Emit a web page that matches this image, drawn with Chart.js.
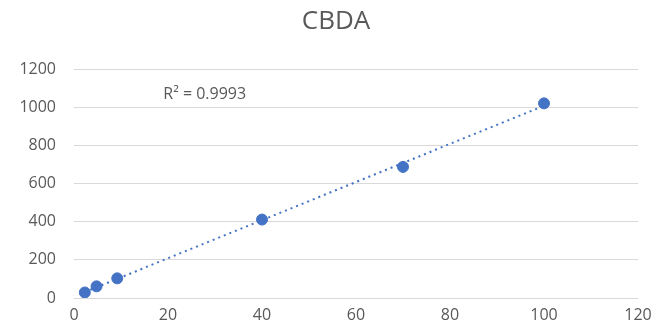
<!DOCTYPE html>
<html>
<head>
<meta charset="utf-8">
<script src="https://cdn.jsdelivr.net/npm/chart.js@4/dist/chart.umd.min.js"></script>
<style>
  html, body { margin: 0; padding: 0; background: #fff; }
  #wrap { width: 672px; height: 332px; }
</style>
</head>
<body>
<div id="wrap"><canvas id="c"></canvas></div>
<script>
// Calibration standards for CBDA: concentration vs. detector response
const concentrations = [2.3, 4.8, 9.2, 40, 70, 100];
const responses = [29, 61, 103, 411, 687, 1020];
const xTicks = [0, 20, 40, 60, 80, 100, 120];
const yTicks = [0, 200, 400, 600, 800, 1000, 1200];
const chartTitle = 'CBDA';
const rSquaredLabel = 'R² = 0.9993';

// Least-squares line through the standards, spanning the measured range
function linearFit(xs, ys) {
  const n = xs.length;
  const mx = xs.reduce((a, b) => a + b, 0) / n;
  const my = ys.reduce((a, b) => a + b, 0) / n;
  let sxy = 0, sxx = 0;
  for (let i = 0; i < n; i++) {
    sxy += (xs[i] - mx) * (ys[i] - my);
    sxx += (xs[i] - mx) * (xs[i] - mx);
  }
  const slope = sxy / sxx;
  return { slope, intercept: my - slope * mx };
}
const fit = linearFit(concentrations, responses);
const xMin = Math.min(...concentrations), xMax = Math.max(...concentrations);
const trendPoints = [
  { x: xMin, y: fit.slope * xMin + fit.intercept },
  { x: xMax, y: fit.slope * xMax + fit.intercept }
];

const textColor = '#595959';
const blue = '#4472C4';
const fontFamily = '"Open Sans", "Liberation Sans", sans-serif';

// Title centred on the whole canvas, plus the R² annotation in the upper-left of the plot
const annotationsPlugin = {
  id: 'annotations',
  afterDatasetsDraw(chart) {
    const { ctx, scales, width } = chart;
    ctx.save();
    ctx.fillStyle = textColor;
    ctx.textBaseline = 'middle';
    ctx.textAlign = 'center';
    ctx.font = '26px ' + fontFamily;
    ctx.fillText(chartTitle, width / 2, 22);
    ctx.textAlign = 'left';
    ctx.font = '16px ' + fontFamily;
    ctx.fillText(rSquaredLabel, scales.x.getPixelForValue(19), scales.y.getPixelForValue(1065));
    ctx.restore();
  }
};

new Chart(document.getElementById('c'), {
  type: 'scatter',
  data: {
    datasets: [
      {
        label: 'Trend',
        type: 'line',
        data: trendPoints,
        borderColor: blue,
        borderWidth: 2,
        borderDash: [2, 4],
        pointRadius: 0,
        fill: false,
        order: 2
      },
      {
        label: 'CBDA',
        data: concentrations.map((x, i) => ({ x, y: responses[i] })),
        backgroundColor: blue,
        borderColor: blue,
        pointRadius: 5.5,
        pointHoverRadius: 5.5,
        order: 1
      }
    ]
  },
  options: {
    responsive: true,
    maintainAspectRatio: false,
    animation: false,
    layout: { padding: { left: 0, right: 34, top: 69, bottom: 0 } },
    plugins: {
      legend: { display: false },
      tooltip: { enabled: false },
      title: { display: false }
    },
    scales: {
      x: {
        type: 'linear',
        min: 0,
        max: 120,
        afterBuildTicks: s => { s.ticks = xTicks.map(v => ({ value: v })); },
        afterFit: s => { s.height = 34; },
        grid: { display: false, drawTicks: false },
        border: { display: false },
        ticks: { color: textColor, font: { family: fontFamily, size: 16 }, padding: 8, callback: v => String(v) }
      },
      y: {
        min: 0,
        max: 1200,
        afterBuildTicks: s => { s.ticks = yTicks.map(v => ({ value: v })); },
        afterFit: s => { s.width = 74; },
        grid: { color: '#d9d9d9', lineWidth: 1, drawTicks: false },
        border: { display: false },
        ticks: { color: textColor, font: { family: fontFamily, size: 16 }, padding: 18, callback: v => String(v) }
      }
    }
  },
  plugins: [annotationsPlugin]
});
</script>
</body>
</html>
